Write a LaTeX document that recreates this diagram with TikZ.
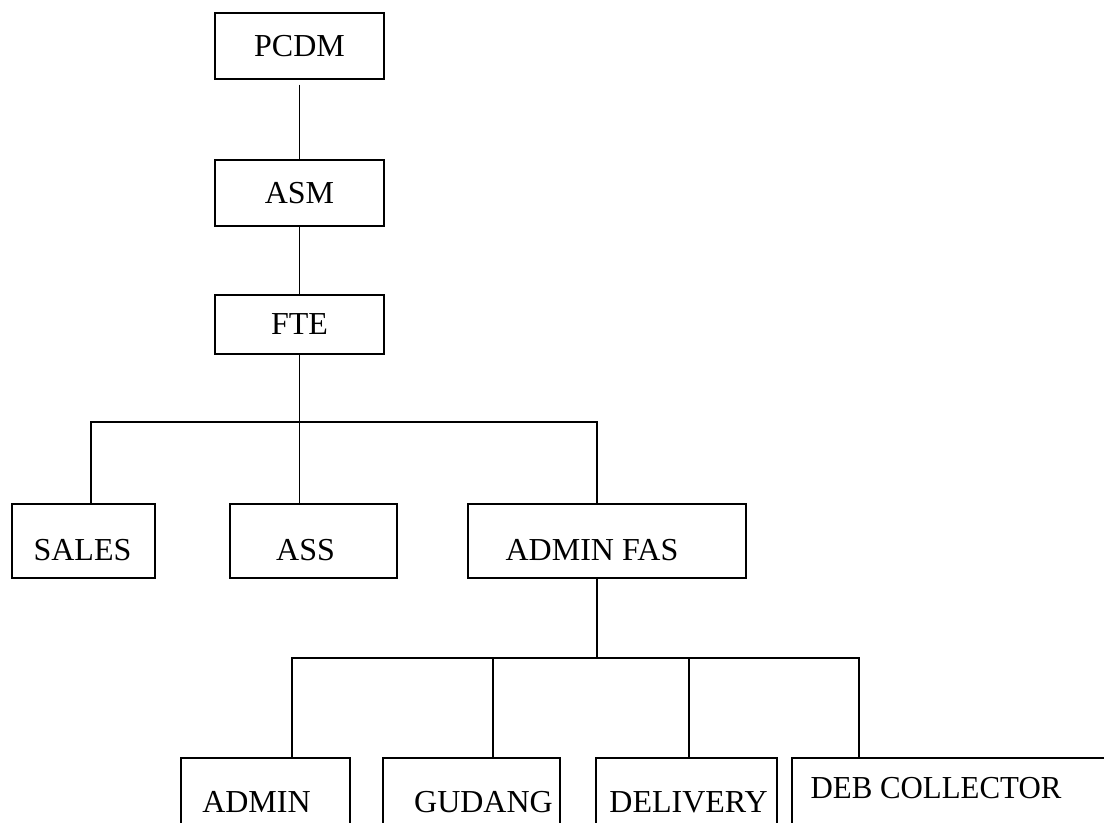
\documentclass[tikz,border=0pt]{standalone}
\usepackage{fontspec}
\setmainfont{Liberation Serif}
\usepackage{tikz}

\begin{document}
\begin{tikzpicture}[x=0.5pt,y=-0.5pt,line width=0.7pt,
                    box/.style={draw,rectangle,inner sep=0pt},
                    lbl/.style={font=\fontsize{16}{19}\selectfont,inner sep=0pt}]
  \useasboundingbox (0,0) rectangle (1104,823);
  \clip (0,0) rectangle (1104,823);

  % top of the chart
  \node[box,lbl,minimum width=84.5pt,minimum height=33pt]   (pcdm) at (299.5,46)   {PCDM};
  \node[box,lbl,minimum width=84.5pt,minimum height=33pt]   (asm)  at (299.5,193)  {ASM};
  \node[box,lbl,minimum width=84.5pt,minimum height=29.5pt] (fte)  at (299.5,324.5) {FTE};

  % second row
  \node[box,minimum width=71.5pt,minimum height=37pt,
        label={[lbl,name=salesT,xshift=-0.5pt,yshift=-4.5pt]center:SALES}] (sales) at (83.5,541) {};
  \node[box,minimum width=83.5pt,minimum height=37pt,
        label={[lbl,name=assT,xshift=-4pt,yshift=-4.5pt]center:ASS}] (ass) at (313.5,541) {};
  \node[box,minimum width=139pt,minimum height=37pt,
        label={[lbl,name=fasT,xshift=-7.5pt,yshift=-4.5pt]center:ADMIN FAS}] (fas) at (607,541) {};

  % bottom row
  \node[box,minimum width=84.5pt,minimum height=56pt,
        label={[lbl,name=adminT,xshift=-4.5pt,yshift=6pt]center:ADMIN}] (admin) at (265.5,814) {};
  \node[box,minimum width=88.5pt,minimum height=56pt,
        label={[lbl,name=gudangT,xshift=6pt,yshift=6pt]center:GUDANG}] (gudang) at (471.5,814) {};
  \node[box,minimum width=90.5pt,minimum height=56pt,
        label={[lbl,name=deliveryT,xshift=1pt,yshift=6pt]center:DELIVERY}] (delivery) at (686.5,814) {};
  \node[box,minimum width=169pt,minimum height=56pt,
        label={[lbl,name=debT,xshift=-12.5pt,yshift=13pt]center:\scalebox{0.965}[1]{DEB COLLECTOR}}] (deb) at (961,814) {};

  \coordinate (busL)  at (91,422);
  \coordinate (busR)  at (597,422);
  \coordinate (bus2L) at (292,658);
  \coordinate (bus2R) at (859,658);
  \coordinate (dropG) at (493,658);
  \coordinate (dropD) at (689,658);

  \draw[shorten <=2.5pt] (pcdm) -- (asm);
  \draw (asm) -- (fte);
  \draw (fte.south) -- (fte.south |- ass.north);
  \draw (sales.north -| busL) |- (busR) -- (busR |- fas.north);
  \draw (fas.south -| busR) -- (busR |- bus2L);
  \draw (admin.north -| bus2L) |- (bus2R) -- (bus2R |- deb.north);
  \draw (dropG) -- (dropG |- gudang.north);
  \draw (dropD) -- (dropD |- delivery.north);
\end{tikzpicture}
\end{document}
